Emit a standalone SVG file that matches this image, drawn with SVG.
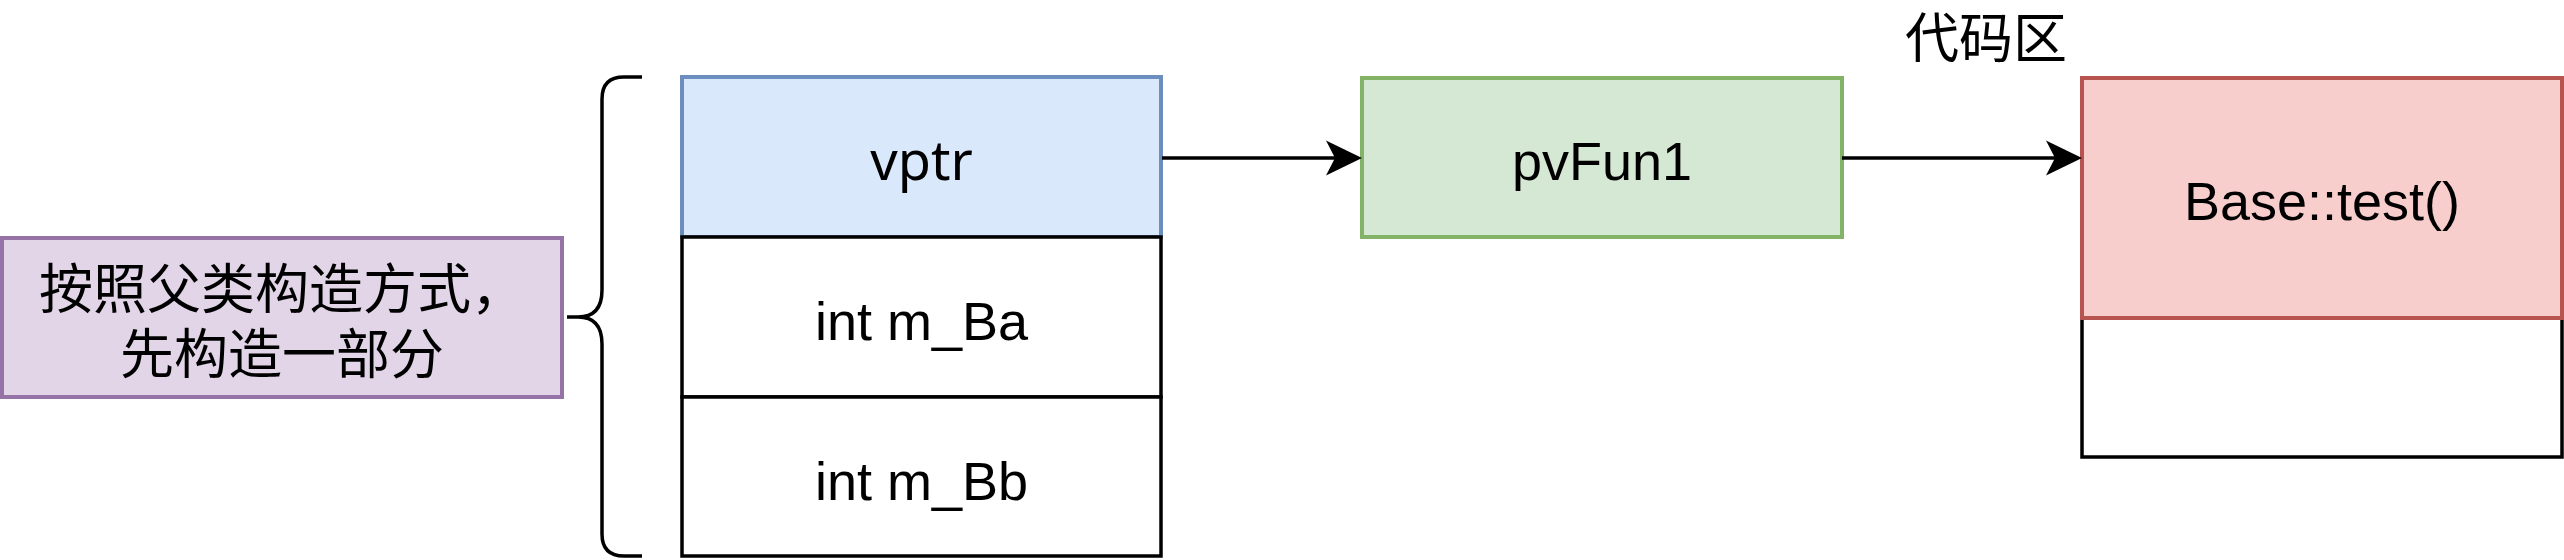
<svg xmlns="http://www.w3.org/2000/svg" width="2564" height="560" viewBox="0 0 2564 560">
  <style>
    .lbl { font-family: "Liberation Sans", Arial, sans-serif; font-size: 54px; fill: #000; text-anchor: middle; }
    .lbl2 { font-family: "Noto Sans", "Liberation Sans", sans-serif; font-size: 54px; fill: #000; text-anchor: middle; }
    .cjk { font-family: "Liberation Sans", "Noto Sans CJK SC", sans-serif; font-size: 54px; fill: #000; text-anchor: middle; }
    .blk { fill: #ffffff; stroke: #000; stroke-width: 3.5; }
    .conn { fill: none; stroke: #000; stroke-width: 3.5; }
  </style>
  <defs>
    <marker id="arrow" viewBox="-40 -20 44 40" refX="-27" refY="0" markerWidth="44" markerHeight="40" orient="auto" markerUnits="userSpaceOnUse">
      <path d="M0,0 L-36,-17.5 L-27,0 L-36,17.5 Z" fill="#000"/>
    </marker>
  </defs>
  <rect width="2564" height="560" fill="#ffffff"/>

  <g id="note">
    <rect x="2" y="238" width="560" height="159" fill="#e1d5e7" stroke="#9673a6" stroke-width="4"/>
    <text class="cjk" x="282" y="309">按照父类构造方式，</text>
    <text class="cjk" x="282" y="374">先构造一部分</text>
  </g>

  <g id="brace">
    <path class="conn" d="M642,77 H624 Q602,77 602,99 V290 Q602,317 578,317 H567 M578,317 Q602,317 602,344 V534 Q602,556 624,556 H642"/>
  </g>

  <g id="vptr">
    <rect x="682" y="77" width="479" height="160" fill="#dae8fc" stroke="#6c8ebf" stroke-width="4"/>
    <text class="lbl2" x="921.5" y="180">vptr</text>
  </g>
  <g id="m_Ba">
    <rect class="blk" x="682" y="237" width="479" height="160"/>
    <text class="lbl" x="921.5" y="340">int m_Ba</text>
  </g>
  <g id="m_Bb">
    <rect class="blk" x="682" y="397" width="479" height="159"/>
    <text class="lbl" x="921.5" y="500">int m_Bb</text>
  </g>

  <g id="pvFun1">
    <rect x="1362" y="78" width="480" height="159" fill="#d5e8d4" stroke="#82b366" stroke-width="4"/>
    <text class="lbl" x="1602" y="180">pvFun1</text>
  </g>

  <g id="code-label">
    <text class="cjk" x="1986" y="58">代码区</text>
  </g>

  <g id="code-empty">
    <rect class="blk" x="2082" y="318" width="480" height="139"/>
  </g>
  <g id="base-test">
    <rect x="2082" y="78" width="480" height="240" fill="#f8cecc" stroke="#b85450" stroke-width="4"/>
    <text class="lbl" x="2322" y="220">Base::test()</text>
  </g>

  <g id="connectors">
    <line class="conn" x1="1162" y1="158" x2="1335" y2="158" marker-end="url(#arrow)"/>
    <line class="conn" x1="1842" y1="158" x2="2055" y2="158" marker-end="url(#arrow)"/>
  </g>
</svg>
